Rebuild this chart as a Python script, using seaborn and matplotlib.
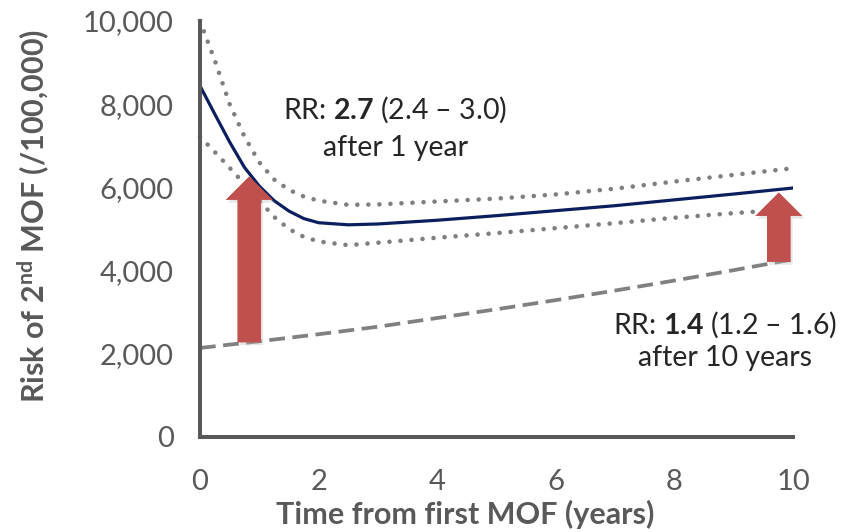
import numpy as np
import pandas as pd
import matplotlib.pyplot as plt
import matplotlib.patheffects as pe
import seaborn as sns

# values
time_pts = [0, 0.25, 0.5, 0.75, 1, 1.25, 1.5, 1.75, 2, 2.5, 3, 4, 5, 6, 7, 8, 9, 10]
risk_mof = [8440, 7760, 7090, 6480, 6030, 5680, 5430, 5250, 5150, 5100, 5120,
            5210, 5320, 5440, 5560, 5700, 5840, 5985]
risk_upper = [10000, 9050, 8000, 7220, 6600, 6190, 5940, 5780, 5680, 5580, 5590,
              5660, 5730, 5830, 5970, 6140, 6300, 6460]
risk_lower = [7220, 6850, 6470, 6080, 5680, 5290, 5000, 4810, 4700, 4610, 4670,
              4790, 4900, 5020, 5140, 5270, 5380, 5480]
time_ref = [0, 1, 2, 3, 4, 5, 6, 7, 8, 9, 10]
risk_ref = [2140, 2300, 2470, 2650, 2860, 3070, 3290, 3520, 3760, 4010, 4270]
arrow_x = [0.83, 9.76]
xticks = [0, 2, 4, 6, 8, 10]
yticks = [0, 2000, 4000, 6000, 8000, 10000]

sns.set_style('white')
plt.rcParams['font.family'] = ['Lato', 'DejaVu Sans']
plt.rcParams['mathtext.fontset'] = 'custom'
plt.rcParams['mathtext.rm'] = 'Lato'
plt.rcParams['mathtext.bf'] = 'Lato:bold'

grey = '#595959'
fig = plt.figure(figsize=(8.46, 5.32), dpi=100)
ax = fig.add_axes([0.2364, 0.1786, 0.701, 0.782])

df = pd.DataFrame({'t': time_pts, 'mof': risk_mof, 'up': risk_upper, 'lo': risk_lower})
ref = pd.DataFrame({'t': time_ref, 'risk': risk_ref})

dot = dict(color='#7F7F7F', lw=3.3, linestyle=(0, (0.01, 2.4)),
           dash_capstyle='round', clip_on=False)
sns.lineplot(data=df, x='t', y='up', ax=ax, **dot)
sns.lineplot(data=df, x='t', y='lo', ax=ax, **dot)
sns.lineplot(data=ref, x='t', y='risk', ax=ax, color='#808080', lw=2.7,
             linestyle=(0, (4.2, 2)))
sns.lineplot(data=df, x='t', y='mof', ax=ax, color='#0B1F5E', lw=2.3)

# red arrows between reference line and MOF line
for xa in arrow_x:
    bottom = np.interp(xa, time_ref, risk_ref)
    top = np.interp(xa, time_pts, risk_mof) - 70
    ax.annotate('', xy=(xa, top), xytext=(xa, bottom), zorder=5,
                arrowprops=dict(arrowstyle='simple,head_width=1.7,head_length=0.85,tail_width=0.85',
                                mutation_scale=20, fc='#C0504D', ec='none',
                                shrinkA=0, shrinkB=0,
                                path_effects=[pe.SimplePatchShadow(offset=(1.5, -2), shadow_rgbFace='#bbbbbb', alpha=0.35),
                                              pe.Normal()]))

fs = 20.5
ax.text(3.29, 7860, r'RR: $\mathbf{2.7}$ (2.4 – 3.0)', ha='center', va='center', fontsize=fs)
ax.text(3.29, 6950, 'after 1 year', ha='center', va='center', fontsize=fs)
ax.text(8.86, 2690, r'RR: $\mathbf{1.4}$ (1.2 – 1.6)', ha='center', va='center', fontsize=fs)
ax.text(8.86, 1900, 'after 10 years', ha='center', va='center', fontsize=fs)

ax.set_xlim(0, 10)
ax.set_ylim(0, 10000)
ax.set_xticks(xticks)
ax.set_yticks(yticks)
ax.set_yticklabels([f'{v:,}' for v in yticks])
ax.tick_params(direction='out', length=7, width=2.2, color=grey,
               labelcolor=grey, labelsize=21)
ax.tick_params(axis='x', pad=16)
ax.tick_params(axis='y', pad=12)
sns.despine(ax=ax)
for s in ['left', 'bottom']:
    ax.spines[s].set_linewidth(2.9)
    ax.spines[s].set_color(grey)

ax.set_xlabel('Time from first MOF (years)', fontsize=22, fontweight='bold', color=grey)
ax.xaxis.set_label_coords(0.447, -0.152)
ax.set_ylabel(r'Risk of 2$^{\mathbf{nd}}$ MOF (/100,000)', fontsize=22, fontweight='bold',
              color=grey)
ax.yaxis.set_label_coords(-0.25, 0.53)

fig.savefig('out.png', dpi=100)
